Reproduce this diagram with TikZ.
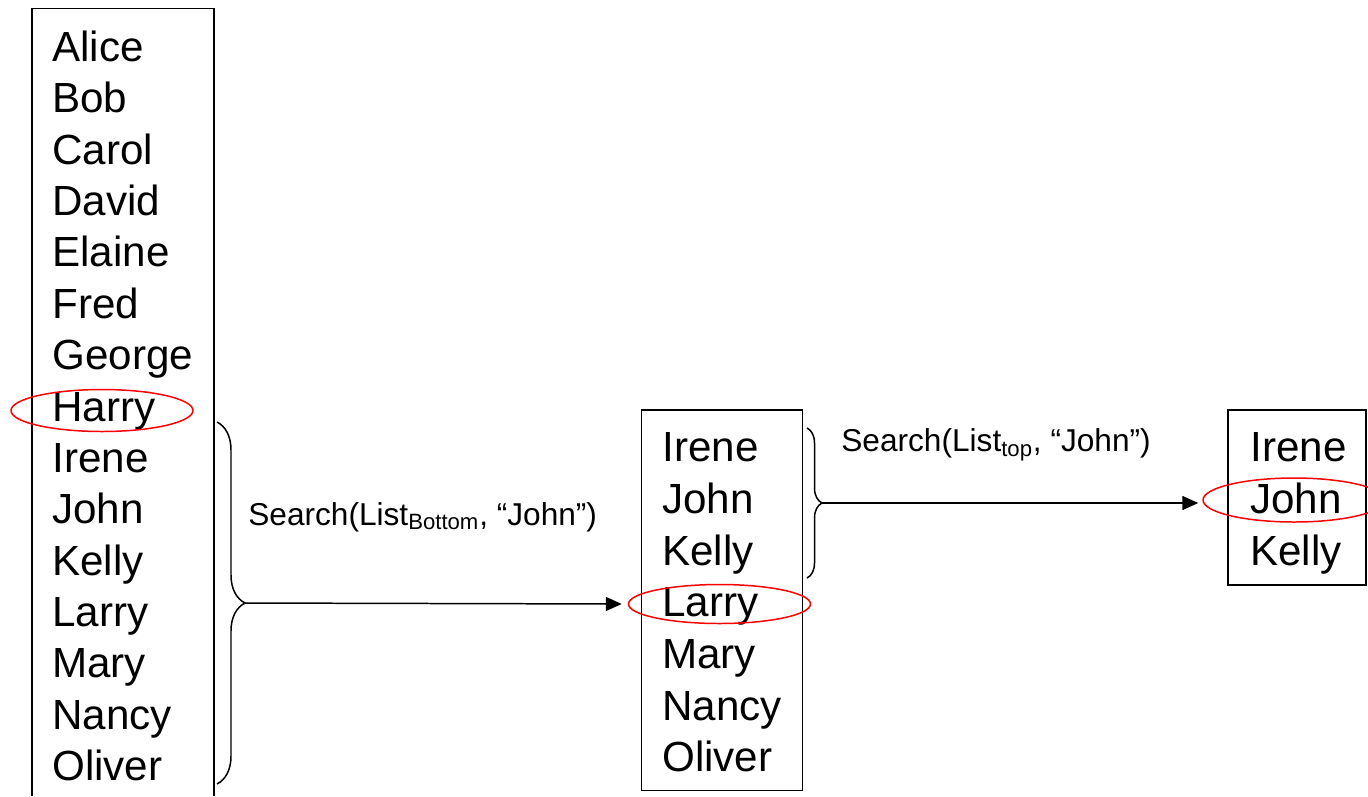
\documentclass[tikz,border=0pt]{standalone}
\usepackage{fontspec}
\setmainfont{Liberation Sans}
\usetikzlibrary{arrows.meta,decorations.pathreplacing,shapes.geometric}

\begin{document}
\begin{tikzpicture}[x=0.02cm,y=-0.02cm,
    item/.style={anchor=base west,inner sep=0pt,font=\fontsize{24}{28}\selectfont},
    call/.style={anchor=base west,inner sep=0pt,font=\fontsize{18}{22}\selectfont},
    frame/.style={draw=black,line width=1.1pt},
    hit/.style={draw=red,line width=0.85pt,ellipse,inner sep=0pt,minimum width=3.64cm,minimum height=0.84cm},
    curly/.style={draw=black,line width=0.85pt,decorate,decoration={brace,amplitude=#1}},
    go/.style={draw=black,line width=0.85pt,-{Triangle[length=0.32cm,width=0.28cm]}}]
    \useasboundingbox (0,0) rectangle (1368,796);

    % Bottom list (left)
    \draw[frame] (32,796) -- (32,8.5) -- (214,8.5) -- (214,796);
    \foreach \n [count=\i] in {Alice,Bob,Carol,David,Elaine,Fred,George,Harry,Irene,John,Kelly,Larry,Mary,Nancy,Oliver}
      \node[item] (b\i) at (52,{10.14+51.36*\i}) {\n};
    \node[hit] (harry) at (102,410.5) {};

    % Middle list
    \draw[frame] (641.5,410) rectangle (802.5,790.5);
    \foreach \n [count=\i] in {Irene,John,Kelly,Larry,Mary,Nancy,Oliver}
      \node[item] (m\i) at (662,{410+51.7*\i}) {\n};
    \node[hit,minimum height=0.78cm] (larry) at (719.5,604) {};

    % Top list (right)
    \draw[frame] (1228,410) rectangle (1366,585);
    \foreach \n [count=\i] in {Irene,John,Kelly}
      \node[item] (t\i) at (1250,{410+51.7*\i}) {\n};
    \node[hit,minimum height=0.88cm] (john) at (1294,500) {};

    % First search step
    \draw[curly=0.56cm] (217,422) -- (217,784);
    \coordinate (tip1) at (245,603);
    \draw[go,shorten >=0.12cm] (tip1) -- (larry.west);
    \node[call] (q1) at (248,525) {Search(List\textsubscript{Bottom}, “John”)};

    % Second search step
    \draw[curly=0.3cm] (807,428) -- (807,578);
    \coordinate (tip2) at (822,503);
    \draw[go,shorten >=0.08cm] (tip2) -- (tip2 -| john.west);
    \node[call] (q2) at (841,451.5) {Search(List\textsubscript{top}, “John”)};
\end{tikzpicture}
\end{document}
